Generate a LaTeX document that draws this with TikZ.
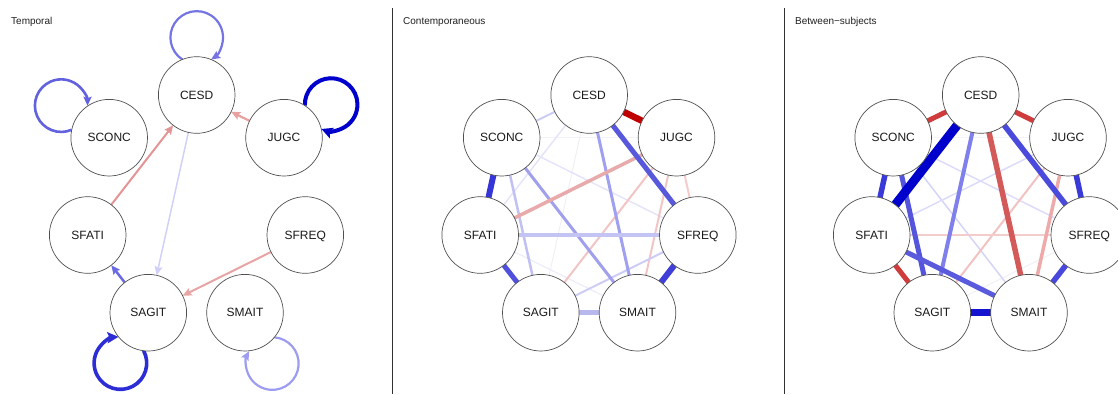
\documentclass[tikz,border=0pt]{standalone}
\usepackage{fontspec}
\setmainfont{Liberation Sans}
\usetikzlibrary{arrows.meta}
\pgfdeclarelayer{bg}
\pgfsetlayers{bg,main}
% panel 1 colours
\definecolor{nodeborder}{HTML}{505050}
\definecolor{labelcol}{HTML}{1A1A1A}
\definecolor{titlecol}{HTML}{202020}
\definecolor{divcol}{HTML}{303030}
\definecolor{tloopC}{HTML}{7474E4}
\definecolor{tloopS}{HTML}{6262DE}
\definecolor{tloopJ}{HTML}{0000CC}
\definecolor{tloopA}{HTML}{2D2DD6}
\definecolor{tloopM}{HTML}{9C9CF0}
\definecolor{tJC}{HTML}{E8A0A0}
\definecolor{tFC}{HTML}{E49494}
\definecolor{tCA}{HTML}{D0D0F8}
\definecolor{tAF}{HTML}{6A6AE2}
\definecolor{tQA}{HTML}{E8A4A4}
% panel 2 colours
\definecolor{cCJ}{HTML}{C00000}
\definecolor{cCQ}{HTML}{5858DC}
\definecolor{cCS}{HTML}{CCCCF4}
\definecolor{cCM}{HTML}{A0A0F0}
\definecolor{cCF}{HTML}{E4E4FA}
\definecolor{cCA}{HTML}{F0F0F4}
\definecolor{cSF}{HTML}{3535D8}
\definecolor{cSA}{HTML}{C0C0F2}
\definecolor{cSM}{HTML}{A0A0EC}
\definecolor{cSQ}{HTML}{E4E4FA}
\definecolor{cSJ}{HTML}{F2F2FC}
\definecolor{cJF}{HTML}{E8AAAA}
\definecolor{cJA}{HTML}{F2C4C4}
\definecolor{cJM}{HTML}{F2C4C4}
\definecolor{cJQ}{HTML}{F4CCCC}
\definecolor{cFQ}{HTML}{C4C4F4}
\definecolor{cFA}{HTML}{5050DC}
\definecolor{cFM}{HTML}{ECECFA}
\definecolor{cQM}{HTML}{4040D8}
\definecolor{cQA}{HTML}{CCCCF6}
\definecolor{cAM}{HTML}{B8B8EE}
% panel 3 colours
\definecolor{bCS}{HTML}{D03C3C}
\definecolor{bCJ}{HTML}{D03C3C}
\definecolor{bCF}{HTML}{0000CC}
\definecolor{bCA}{HTML}{8080EC}
\definecolor{bCM}{HTML}{D45A5A}
\definecolor{bCQ}{HTML}{4A4ADC}
\definecolor{bSF}{HTML}{3A3AD8}
\definecolor{bSA}{HTML}{5454DC}
\definecolor{bSM}{HTML}{D4D4F8}
\definecolor{bSQ}{HTML}{DCDCFA}
\definecolor{bSJ}{HTML}{F4F4FC}
\definecolor{bJF}{HTML}{DCDCFA}
\definecolor{bJA}{HTML}{F2C2C2}
\definecolor{bJM}{HTML}{EEAAAA}
\definecolor{bJQ}{HTML}{3A3AD8}
\definecolor{bFQ}{HTML}{F4CCCC}
\definecolor{bFA}{HTML}{D03C3C}
\definecolor{bFM}{HTML}{5A5ADC}
\definecolor{bQM}{HTML}{4848DC}
\definecolor{bQA}{HTML}{F0F0F6}
\definecolor{bAM}{HTML}{1414D0}
\begin{document}
\begin{tikzpicture}[x=1pt,y=1pt,
  vn/.style={circle, draw=nodeborder, line width=0.7pt, fill=white,
    minimum size=76.6pt, inner sep=0pt, outer sep=0pt,
    font=\fontsize{12}{14}\selectfont, text=labelcol, text depth=0pt},
  ttl/.style={anchor=base west, inner sep=0pt,
    font=\fontsize{10}{12}\selectfont, text=titlecol},
  divider/.style={draw=divcol, line width=1.2pt},
  ed/.style={line cap=butt},
  arr/.style={-{Stealth[length=9pt,width=8pt,inset=1.5pt]}},
  looparr/.style={-{Stealth[length=9pt,width=8pt,inset=1.5pt]}},
  bigarr/.style={-{Stealth[length=11pt,width=11pt,inset=2pt]}}
]
\useasboundingbox (0,0) rectangle (1118,-394);

% panel titles
\node[ttl] (title-t) at (11,-24.3) {Temporal};
\node[ttl] (title-c) at (403,-24.3) {Contemporaneous};
\node[ttl] (title-b) at (795,-24.3) {Between{\char"2212}subjects};

% dividers
\coordinate (d1top) at (392.7,-8);
\coordinate (d1bot) at (392.7,-394);
\coordinate (d2top) at (784.3,-8);
\coordinate (d2bot) at (784.3,-394);
\draw[divider] (d1top) -- (d1bot);
\draw[divider] (d2top) -- (d2bot);

% nodes of the three panels
\foreach \p/\ox in {t/0, c/392.5, b/784}{
  \node[vn] (\p-CESD)  at (\ox+196.7, -95)   {CESD};
  \node[vn] (\p-SCONC) at (\ox+109.2, -137.7) {SCONC};
  \node[vn] (\p-JUGC)  at (\ox+284.0, -137.7) {JUGC};
  \node[vn] (\p-SFATI) at (\ox+87.7,  -235)   {SFATI};
  \node[vn] (\p-SFREQ) at (\ox+305.3, -235)   {SFREQ};
  \node[vn] (\p-SAGIT) at (\ox+148.3, -312.7) {SAGIT};
  \node[vn] (\p-SMAIT) at (\ox+245.0, -312.7) {SMAIT};
}

\begin{pgfonlayer}{bg}
% ---------- Temporal ----------
\draw[ed, arr, line width=2.2pt, draw=tJC] (t-JUGC) -- (t-CESD);
\draw[ed, arr, line width=2pt, draw=tFC] (t-SFATI) -- (t-CESD);
\draw[ed, arr, line width=1.5pt, draw=tCA] (t-CESD) -- (t-SAGIT);
\draw[ed, arr, line width=2.5pt, draw=tAF] (t-SAGIT) -- (t-SFATI);
\draw[ed, arr, line width=2pt, draw=tQA] (t-SFREQ) -- (t-SAGIT);
% self loops
\draw[ed, looparr, line width=2.2pt, draw=tloopC]
  (t-CESD.112) arc[start angle=236.9, delta angle=-293.8, radius=26.3];
\draw[ed, looparr, line width=2.6pt, draw=tloopS]
  (t-SCONC.168.7) arc[start angle=293.6, delta angle=-293.8, radius=26.3];
\draw[ed, bigarr, line width=4pt, draw=tloopJ]
  (t-JUGC.57.4) arc[start angle=182.3, delta angle=-293.8, radius=26.3];
\draw[ed, bigarr, line width=3.6pt, draw=tloopA]
  (t-SAGIT.263.1) arc[start angle=28.0, delta angle=-293.8, radius=26.3];
\draw[ed, looparr, line width=2.2pt, draw=tloopM]
  (t-SMAIT.320.7) arc[start angle=85.6, delta angle=-293.8, radius=26.3];

% ---------- Contemporaneous ----------
\draw[ed, line width=1pt, draw=cCA] (c-CESD) -- (c-SAGIT);
\draw[ed, line width=1.2pt, draw=cSJ] (c-SCONC) -- (c-JUGC);
\draw[ed, line width=1.2pt, draw=cFM] (c-SFATI) -- (c-SMAIT);
\draw[ed, line width=1.5pt, draw=cCF] (c-CESD) -- (c-SFATI);
\draw[ed, line width=1.5pt, draw=cSQ] (c-SCONC) -- (c-SFREQ);
\draw[ed, line width=2pt, draw=cCS] (c-CESD) -- (c-SCONC);
\draw[ed, line width=2pt, draw=cJA] (c-JUGC) -- (c-SAGIT);
\draw[ed, line width=2pt, draw=cJM] (c-JUGC) -- (c-SMAIT);
\draw[ed, line width=2pt, draw=cJQ] (c-JUGC) -- (c-SFREQ);
\draw[ed, line width=2pt, draw=cQA] (c-SFREQ) -- (c-SAGIT);
\draw[ed, line width=2.5pt, draw=cSA] (c-SCONC) -- (c-SAGIT);
\draw[ed, line width=3pt, draw=cSM] (c-SCONC) -- (c-SMAIT);
\draw[ed, line width=3pt, draw=cCM] (c-CESD) -- (c-SMAIT);
\draw[ed, line width=3.5pt, draw=cJF] (c-JUGC) -- (c-SFATI);
\draw[ed, line width=3.5pt, draw=cFQ] (c-SFATI) -- (c-SFREQ);
\draw[ed, line width=4.5pt, draw=cAM] (c-SAGIT) -- (c-SMAIT);
\draw[ed, line width=5pt, draw=cFA] (c-SFATI) -- (c-SAGIT);
\draw[ed, line width=5pt, draw=cCQ] (c-CESD) -- (c-SFREQ);
\draw[ed, line width=6pt, draw=cSF] (c-SCONC) -- (c-SFATI);
\draw[ed, line width=6pt, draw=cQM] (c-SFREQ) -- (c-SMAIT);
\draw[ed, line width=6.5pt, draw=cCJ] (c-CESD) -- (c-JUGC);

% ---------- Between-subjects ----------
\draw[ed, line width=1pt, draw=bQA] (b-SFREQ) -- (b-SAGIT);
\draw[ed, line width=1.2pt, draw=bSJ] (b-SCONC) -- (b-JUGC);
\draw[ed, line width=1.5pt, draw=bSM] (b-SCONC) -- (b-SMAIT);
\draw[ed, line width=1.5pt, draw=bSQ] (b-SCONC) -- (b-SFREQ);
\draw[ed, line width=1.5pt, draw=bJF] (b-JUGC) -- (b-SFATI);
\draw[ed, line width=2pt, draw=bJA] (b-JUGC) -- (b-SAGIT);
\draw[ed, line width=2pt, draw=bFQ] (b-SFATI) -- (b-SFREQ);
\draw[ed, line width=3.5pt, draw=bJM] (b-JUGC) -- (b-SMAIT);
\draw[ed, line width=4pt, draw=bCA] (b-CESD) -- (b-SAGIT);
\draw[ed, line width=5pt, draw=bCS] (b-CESD) -- (b-SCONC);
\draw[ed, line width=5pt, draw=bCJ] (b-CESD) -- (b-JUGC);
\draw[ed, line width=5pt, draw=bSA] (b-SCONC) -- (b-SAGIT);
\draw[ed, line width=5pt, draw=bFA] (b-SFATI) -- (b-SAGIT);
\draw[ed, line width=5pt, draw=bFM] (b-SFATI) -- (b-SMAIT);
\draw[ed, line width=5.5pt, draw=bCM] (b-CESD) -- (b-SMAIT);
\draw[ed, line width=5.5pt, draw=bCQ] (b-CESD) -- (b-SFREQ);
\draw[ed, line width=5.5pt, draw=bSF] (b-SCONC) -- (b-SFATI);
\draw[ed, line width=5.5pt, draw=bJQ] (b-JUGC) -- (b-SFREQ);
\draw[ed, line width=5.5pt, draw=bQM] (b-SFREQ) -- (b-SMAIT);
\draw[ed, line width=7pt, draw=bAM] (b-SAGIT) -- (b-SMAIT);
\draw[ed, line width=9pt, draw=bCF] (b-CESD) -- (b-SFATI);
\end{pgfonlayer}
\end{tikzpicture}
\end{document}
